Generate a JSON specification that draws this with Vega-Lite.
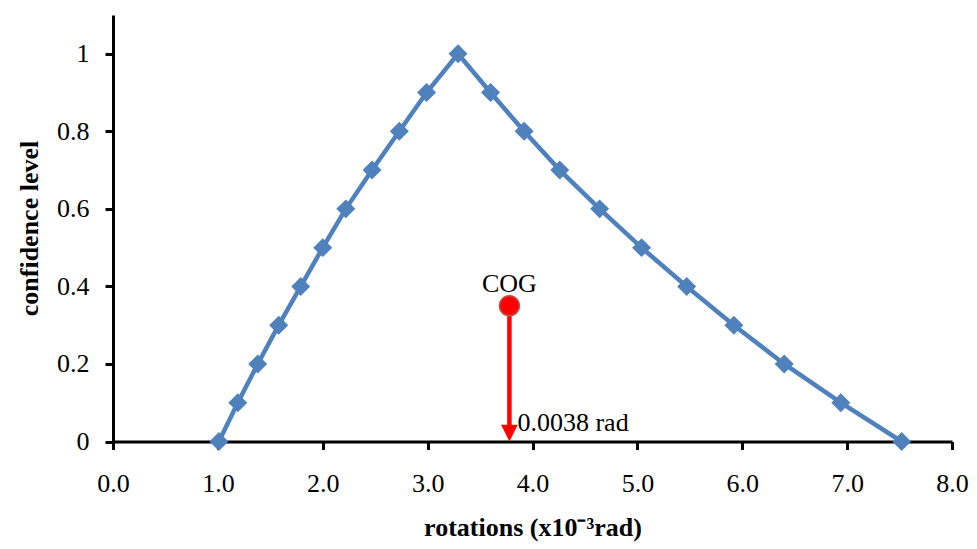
{
  "$schema": "https://vega.github.io/schema/vega-lite/v6.json",
  "width": 839,
  "height": 426.5,
  "autosize": "none",
  "padding": {"left": 113, "top": 15, "right": 25, "bottom": 107.5},
  "background": "white",
  "config": {"view": {"stroke": null}, "font": "Liberation Serif"},
  "datasets": {
    "curve": [
      {"rotation": 1.01, "confidence": 0.0},
      {"rotation": 1.19, "confidence": 0.1},
      {"rotation": 1.38, "confidence": 0.2},
      {"rotation": 1.58, "confidence": 0.3},
      {"rotation": 1.79, "confidence": 0.4},
      {"rotation": 2.00, "confidence": 0.5},
      {"rotation": 2.22, "confidence": 0.6},
      {"rotation": 2.47, "confidence": 0.7},
      {"rotation": 2.73, "confidence": 0.8},
      {"rotation": 2.99, "confidence": 0.9},
      {"rotation": 3.29, "confidence": 1.0},
      {"rotation": 3.60, "confidence": 0.9},
      {"rotation": 3.92, "confidence": 0.8},
      {"rotation": 4.26, "confidence": 0.7},
      {"rotation": 4.64, "confidence": 0.6},
      {"rotation": 5.04, "confidence": 0.5},
      {"rotation": 5.47, "confidence": 0.4},
      {"rotation": 5.92, "confidence": 0.3},
      {"rotation": 6.40, "confidence": 0.2},
      {"rotation": 6.94, "confidence": 0.1},
      {"rotation": 7.52, "confidence": 0.0}
    ],
    "cog": [
      {"rotation": 3.78, "confidence": 0.35, "label": "COG", "value": "0.0038 rad"}
    ]
  },
  "layer": [
    {
      "data": {"name": "curve"},
      "mark": {"type": "line", "color": "#4f81bd", "strokeWidth": 4.5},
      "encoding": {
        "x": {
          "field": "rotation", "type": "quantitative",
          "scale": {"domain": [0, 8], "nice": false, "zero": false},
          "axis": {
            "title": "rotations (x10⁻³rad)",
            "values": [0, 1, 2, 3, 4, 5, 6, 7, 8],
            "format": ".1f",
            "grid": false,
            "labelFlush": false,
            "labelOverlap": false,
            "domainColor": "black", "domainWidth": 3,
            "tickColor": "black", "tickWidth": 3, "tickSize": 8,
            "labelFont": "Liberation Serif", "labelFontSize": 26, "labelColor": "black",
            "labelPadding": 21,
            "titleFont": "Liberation Serif", "titleFontSize": 26, "titleFontWeight": "bold", "titleColor": "black",
            "titleBaseline": "alphabetic", "titleY": 93.5
          }
        },
        "y": {
          "field": "confidence", "type": "quantitative",
          "scale": {"domain": [0, 1.1], "nice": false},
          "axis": {
            "title": "confidence level",
            "values": [0, 0.2, 0.4, 0.6, 0.8, 1],
            "format": "~g",
            "grid": false,
            "labelOverlap": false,
            "domainColor": "black", "domainWidth": 3,
            "tickColor": "black", "tickWidth": 3, "tickSize": 8,
            "labelFont": "Liberation Serif", "labelFontSize": 26, "labelColor": "black",
            "labelPadding": 16,
            "titleFont": "Liberation Serif", "titleFontSize": 26, "titleFontWeight": "bold", "titleColor": "black",
            "titleAngle": -90, "titleAlign": "center", "titleBaseline": "alphabetic",
            "titleX": -76, "titleY": 213
          }
        }
      }
    },
    {
      "data": {"name": "curve"},
      "mark": {"type": "point", "shape": "diamond", "filled": true, "size": 360, "color": "#4f81bd", "opacity": 1},
      "encoding": {
        "x": {"field": "rotation", "type": "quantitative"},
        "y": {"field": "confidence", "type": "quantitative"}
      }
    },
    {
      "data": {"name": "cog"},
      "mark": {"type": "rule", "color": "#ff0000", "strokeWidth": 4.5},
      "encoding": {
        "x": {"field": "rotation", "type": "quantitative"},
        "y": {"field": "confidence", "type": "quantitative"},
        "y2": {"datum": 0.04}
      }
    },
    {
      "data": {"name": "cog"},
      "mark": {"type": "point", "shape": "M-0.5,-1L0.5,-1L0,0Z", "filled": true, "size": 1115, "color": "#ff0000", "opacity": 1},
      "encoding": {
        "x": {"field": "rotation", "type": "quantitative"},
        "y": {"datum": 0, "type": "quantitative"}
      }
    },
    {
      "data": {"name": "cog"},
      "mark": {"type": "circle", "size": 400, "fill": "#ff0000", "stroke": "#c0504d", "strokeWidth": 1.5, "opacity": 1},
      "encoding": {
        "x": {"field": "rotation", "type": "quantitative"},
        "y": {"field": "confidence", "type": "quantitative"}
      }
    },
    {
      "data": {"name": "cog"},
      "mark": {"type": "text", "font": "Liberation Serif", "fontSize": 26, "color": "black", "align": "center", "baseline": "alphabetic", "dy": -14},
      "encoding": {
        "x": {"field": "rotation", "type": "quantitative"},
        "y": {"field": "confidence", "type": "quantitative"},
        "text": {"field": "label"}
      }
    },
    {
      "data": {"name": "cog"},
      "mark": {"type": "text", "font": "Liberation Serif", "fontSize": 26, "color": "black", "align": "left", "baseline": "alphabetic", "dx": 8, "dy": -11},
      "encoding": {
        "x": {"field": "rotation", "type": "quantitative"},
        "y": {"datum": 0, "type": "quantitative"},
        "text": {"field": "value"}
      }
    }
  ]
}
